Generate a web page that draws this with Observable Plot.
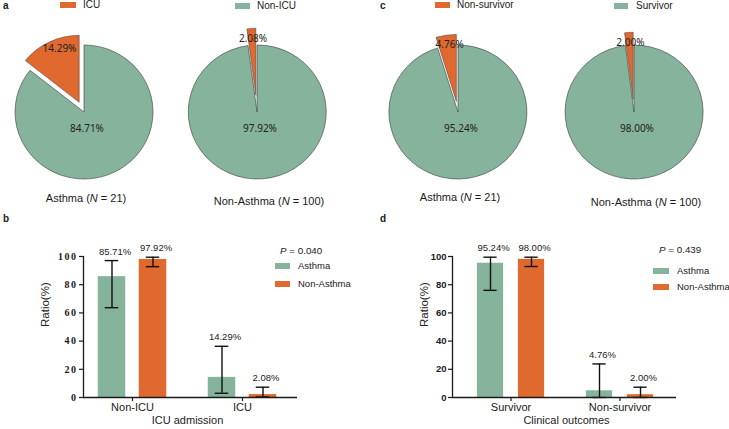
<!DOCTYPE html>
<html><head><meta charset="utf-8">
<script src="https://cdn.jsdelivr.net/npm/d3@7"></script>
<script src="https://cdn.jsdelivr.net/npm/@observablehq/plot@0.6"></script>
<style>
body{margin:0;background:#fff;font-family:"Liberation Sans",Arial,sans-serif;color:#1a1a1a;}
#fig{position:relative;width:729px;height:429px;overflow:hidden;background:#fff;}
.box{position:absolute;}
.t{position:absolute;white-space:nowrap;line-height:1;}
.sw{position:absolute;}
.pb g[aria-label="y-axis tick label"] text{letter-spacing:1.5px;}
</style></head>
<body><div id="fig"></div>
<script>
// ---------------- data ----------------
const groups = ["Asthma", "Non-Asthma"];
const groupN = [21, 100];

// pies (fraction of the small, exploded slice)
const icuShare = [14.29, 2.08];
const icuShareLabels = ["14.29%", "2.08%"];
const nonIcuShareLabels = ["84.71%", "97.92%"];
const deathShare = [4.76, 2.00];
const deathShareLabels = ["4.76%", "2.00%"];
const survShareLabels = ["95.24%", "98.00%"];

// panel b
const icuCategories = ["Non-ICU", "ICU"];
const icuAsthma = [85.71, 14.29];
const icuAsthmaLo = [63.7, 3.0];
const icuAsthmaHi = [97.1, 36.3];
const icuNonAsthma = [97.92, 2.08];
const icuNonAsthmaLo = [92.8, 0.4];
const icuNonAsthmaHi = [99.5, 7.3];
const icuP = "0.040";

// panel d
const outcomeCategories = ["Survivor", "Non-survivor"];
const outAsthma = [95.24, 4.76];
const outAsthmaLo = [76.0, 0.0];
const outAsthmaHi = [99.5, 23.8];
const outNonAsthma = [98.00, 2.00];
const outNonAsthmaLo = [92.9, 0.0];
const outNonAsthmaHi = [99.5, 7.3];
const outP = "0.439";

const yTicks = [0, 20, 40, 60, 80, 100];

// ---------------- style ----------------
const GREEN = "#85b39c", ORANGE = "#e0692f";
const fig = document.getElementById("fig");

function place(node, left, top) {
  const d = document.createElement("div");
  d.className = "box"; d.style.left = left + "px"; d.style.top = top + "px";
  d.appendChild(node); fig.appendChild(d); return d;
}
function txt(html, x, y, {size = 10, anchor = "start", weight = "normal"} = {}) {
  const d = document.createElement("div");
  d.className = "t"; d.innerHTML = html;
  d.style.left = x + "px"; d.style.top = y + "px";
  d.style.fontSize = size + "px"; d.style.fontWeight = weight;
  d.style.transform = `translate(${anchor === "middle" ? "-50%" : "0"},-50%)`;
  fig.appendChild(d); return d;
}
function swatch(x, y, w, h, color) {
  const d = document.createElement("div");
  d.className = "sw"; d.style.left = x + "px"; d.style.top = y + "px";
  d.style.width = w + "px"; d.style.height = h + "px"; d.style.background = color;
  fig.appendChild(d);
}

// ---------------- pies ----------------
function pieChart({frac, bigLabel, smallLabel, explode}) {
  const half = 85, rx = 69, ry = 67;
  return Plot.plot({
    width: 2 * half, height: 2 * half, margin: 0,
    style: {background: "transparent", overflow: "visible", maxWidth: "none"},
    x: {domain: [-half / rx, half / rx], axis: null},
    y: {domain: [-half / ry, half / ry], axis: null},
    marks: [
      (index, scales) => {
        const X = typeof scales.x === "function" ? scales.x : scales.scales.x.apply;
        const Y = typeof scales.y === "function" ? scales.y : scales.scales.y.apply;
        const cx = X(0), cy = Y(0), sx = X(1) - X(0), sy = Y(0) - Y(1);
        const a = 2 * Math.PI * frac / 100;
        const arc = d3.arc().innerRadius(0).outerRadius(1);
        const g = d3.create("svg:g");
        g.append("path")
          .attr("d", arc({startAngle: 0, endAngle: 2 * Math.PI - a}))
          .attr("transform", `translate(${cx},${cy}) scale(${sx},${sy})`)
          .attr("fill", GREEN).attr("stroke", "#3a3a3a").attr("stroke-width", 0.6)
          .attr("vector-effect", "non-scaling-stroke");
        const th = -a / 2;
        const ox = explode * sx * Math.sin(th), oy = -explode * sy * Math.cos(th);
        g.append("path")
          .attr("d", arc({startAngle: -a, endAngle: 0}))
          .attr("transform", `translate(${cx + ox},${cy + oy}) scale(${sx},${sy})`)
          .attr("fill", ORANGE).attr("stroke", "#3a3a3a").attr("stroke-width", 0.5)
          .attr("vector-effect", "non-scaling-stroke");
        const tl = th * 0.8, R = explode + 0.85;
        g.append("text").text(smallLabel)
          .attr("x", cx + R * sx * Math.sin(tl)).attr("y", cy - R * sy * Math.cos(tl))
          .attr("dy", "0.35em").attr("text-anchor", "middle")
          .attr("font-size", 10).attr("fill", "#222");
        g.append("text").text(bigLabel)
          .attr("x", cx + 3).attr("y", cy + 16)
          .attr("dy", "0.35em").attr("text-anchor", "middle")
          .attr("font-size", 10).attr("fill", "#222");
        return g.node();
      }
    ]
  });
}

const pieCenters = [[84, 111.5], [256.5, 111.5], [458, 111.5], [634, 111.5]];
const pieSpecs = [
  {frac: icuShare[0], bigLabel: nonIcuShareLabels[0], smallLabel: icuShareLabels[0], explode: 0.16},
  {frac: icuShare[1], bigLabel: nonIcuShareLabels[1], smallLabel: icuShareLabels[1], explode: 0.25},
  {frac: deathShare[0], bigLabel: survShareLabels[0], smallLabel: deathShareLabels[0], explode: 0.16},
  {frac: deathShare[1], bigLabel: survShareLabels[1], smallLabel: deathShareLabels[1], explode: 0.19}
];
pieSpecs.forEach((s, i) => place(pieChart(s), pieCenters[i][0] - 85, pieCenters[i][1] - 85));

// ---------------- grouped bars ----------------
function barChart({cats, aV, aLo, aHi, bV, bLo, bHi, xTitle, width, mL, mR, xRange, barW, tickFont, tickWeight, tickSize, cls, yTitleDx, xTitleDx}) {
  const rows = [];
  cats.forEach((c, i) => {
    rows.push({cat: c, group: groups[0], v: aV[i], lo: aLo[i], hi: aHi[i]});
    rows.push({cat: c, group: groups[1], v: bV[i], lo: bLo[i], hi: bHi[i]});
  });
  const bw = (xRange[1] - xRange[0]) / cats.length;
  const bIns = (bw - barW) / 2, cIns = (bw - 14) / 2;
  const colors = {[groups[0]]: GREEN, [groups[1]]: ORANGE};
  const offs = {[groups[0]]: -20.5, [groups[1]]: 20.5};
  const marks = [];
  for (const g of groups) {
    const r = rows.filter(d => d.group === g);
    const dx = offs[g];
    marks.push(Plot.barY(r, {x: "cat", y: "v", fill: colors[g], dx, insetLeft: bIns, insetRight: bIns}));
  }
  for (const g of groups) {
    const r = rows.filter(d => d.group === g);
    const dx = offs[g];
    marks.push(Plot.ruleX(r, {x: "cat", y1: "lo", y2: "hi", dx, stroke: "#111", strokeWidth: 1.4}));
    marks.push(Plot.tickY(r, {x: "cat", y: "hi", dx, insetLeft: cIns, insetRight: cIns, stroke: "#111", strokeWidth: 1.4}));
    marks.push(Plot.tickY(r, {x: "cat", y: "lo", dx, insetLeft: cIns, insetRight: cIns, stroke: "#111", strokeWidth: 1.4}));
    marks.push(Plot.text(r, {x: "cat", y: "hi", text: d => d.v.toFixed(2) + "%", dx: dx + 3, dy: -9, fontSize: 9.5, fill: "#222"}));
  }
  marks.push(Plot.ruleY([0], {stroke: "#1a1a1a", strokeWidth: 1.3}));
  marks.push(Plot.frame({anchor: "left", stroke: "#1a1a1a", strokeWidth: 1.3}));
  marks.push(Plot.axisY({ticks: yTicks, tickSize: 4, tickPadding: 2, fontSize: tickSize, fontWeight: tickWeight, fontFamily: tickFont, strokeWidth: 1.2, label: null}));
  marks.push(Plot.axisX({tickSize: 4, tickPadding: 2, fontSize: 11, strokeWidth: 1.2, label: null}));
  marks.push(Plot.text(["Ratio(%)"], {frameAnchor: "left", rotate: -90, dx: yTitleDx, fontSize: 11.5, fill: "#222"}));
  marks.push(Plot.text([xTitle], {frameAnchor: "bottom", dy: 26, dx: xTitleDx, fontSize: 11, fill: "#222"}));
  return Plot.plot({
    width, height: 199, marginLeft: mL, marginRight: mR, marginTop: 26, marginBottom: 32,
    className: cls,
    style: {background: "transparent", overflow: "visible", maxWidth: "none", fontFamily: "Liberation Sans, Arial, sans-serif", color: "#1a1a1a"},
    x: {domain: cats, range: xRange, padding: 0},
    y: {domain: [0, 100]},
    marks
  });
}

place(barChart({
  cats: icuCategories, aV: icuAsthma, aLo: icuAsthmaLo, aHi: icuAsthmaHi,
  bV: icuNonAsthma, bLo: icuNonAsthmaLo, bHi: icuNonAsthmaHi,
  xTitle: "ICU admission", width: 364, mL: 83, mR: 67, xRange: [76.25, 297.25], barW: 28,
  tickFont: "Liberation Serif, Times New Roman, serif", tickWeight: "bold", tickSize: 10, cls: "pb",
  yTitleDx: -38, xTitleDx: -3
}), 0, 230);

place(barChart({
  cats: outcomeCategories, aV: outAsthma, aLo: outAsthmaLo, aHi: outAsthmaHi,
  bV: outNonAsthma, bLo: outNonAsthmaLo, bHi: outNonAsthmaHi,
  xTitle: "Clinical outcomes", width: 365, mL: 88, mR: 53, xRange: [91.6, 311.1], barW: 27,
  tickFont: "Liberation Sans, Arial, sans-serif", tickWeight: "bold", tickSize: 9.5, cls: "pd",
  yTitleDx: -28, xTitleDx: 2
}), 364, 230);

// ---------------- texts & legends ----------------
txt("a", 3, 6, {size: 10, weight: "bold"});
txt("c", 380, 6, {size: 10, weight: "bold"});
txt("b", 3, 219, {size: 10, weight: "bold"});
txt("d", 380, 219, {size: 10, weight: "bold"});

swatch(60, 2, 16, 6, ORANGE); txt(icuCategories[1], 83, 5, {size: 10});
swatch(235, 3, 15, 6, GREEN); txt(icuCategories[0], 257, 6, {size: 10});
swatch(435, 2, 15, 6, ORANGE); txt(outcomeCategories[1], 457, 5, {size: 10});
swatch(614, 3, 14, 6, GREEN); txt(outcomeCategories[0], 636, 6, {size: 10});

txt(`${groups[0]} (<i>N</i> = ${groupN[0]})`, 86, 198, {size: 11, anchor: "middle"});
txt(`${groups[1]} (<i>N</i> = ${groupN[1]})`, 269, 201, {size: 11, anchor: "middle"});
txt(`${groups[0]} (<i>N</i> = ${groupN[0]})`, 460, 197, {size: 11, anchor: "middle"});
txt(`${groups[1]} (<i>N</i> = ${groupN[1]})`, 646, 202, {size: 11, anchor: "middle"});

txt(`<i>P</i> = ${icuP}`, 280, 251, {size: 9.8});
swatch(275, 263, 15, 6, GREEN); txt(groups[0], 298, 266, {size: 9.5});
swatch(275, 281, 15, 6, ORANGE); txt(groups[1], 298, 284, {size: 9.5});

txt(`<i>P</i> = ${outP}</i>`, 659, 250, {size: 9.8});
swatch(653, 268, 16, 6, GREEN); txt(groups[0], 677, 271, {size: 9.5});
swatch(653, 284, 16, 6, ORANGE); txt(groups[1], 677, 287, {size: 9.5});
</script>
</body></html>
